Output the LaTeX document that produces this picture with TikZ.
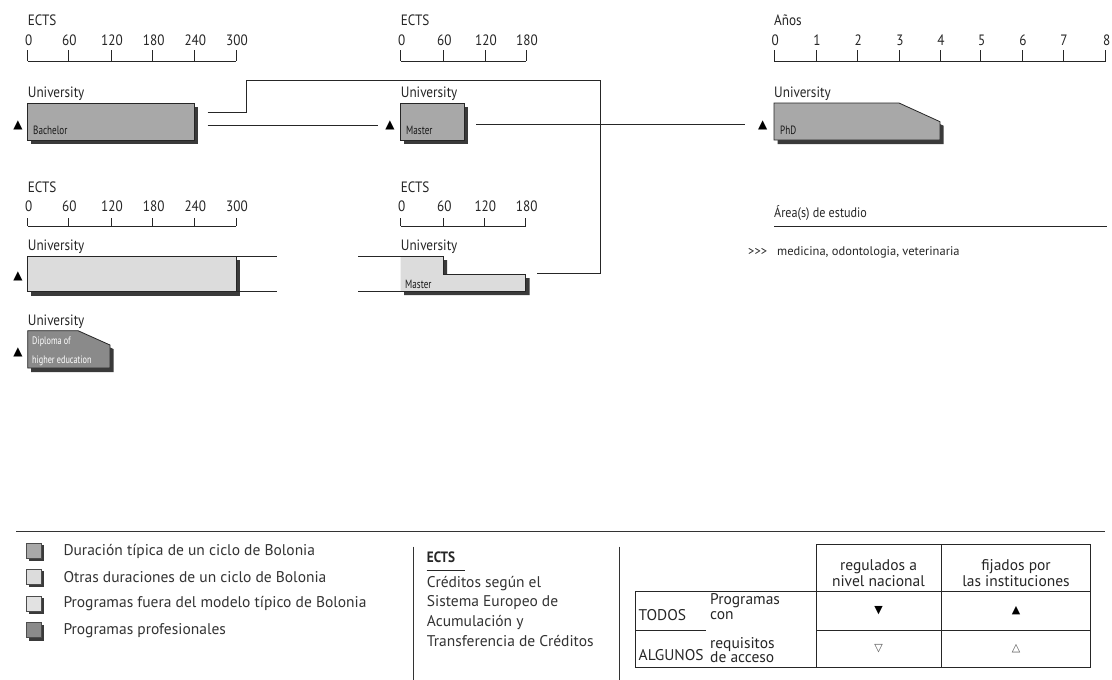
\documentclass[tikz,border=0pt]{standalone}
\usepackage{fontspec}
\setmainfont{PT Sans}
\newfontfamily\condf[FakeStretch=0.88]{PT Sans}
\newfontfamily\condn[FakeStretch=0.76]{PT Sans}
\newfontfamily\symf{DejaVu Sans}
\definecolor{typc}{HTML}{A8A8A8}
\definecolor{othc}{HTML}{DCDCDC}
\definecolor{outc}{HTML}{E2E2E2}
\definecolor{proc}{HTML}{8A8A8A}
\definecolor{shc}{HTML}{3A3A3A}
\begin{document}
\begin{tikzpicture}[x=1pt,y=-1pt,
  axisl/.style={draw=black!85, line width=0.8pt},
  lab/.style={font=\condf\fontsize{15}{16}\selectfont, text=black!85, inner sep=0pt},
  ulab/.style={lab, anchor=west},
  inlab/.style={font=\condn\fontsize{12}{13}\selectfont, text=black!90, inner sep=0pt, anchor=west},
  tri/.style={font=\symf\fontsize{12}{13}\selectfont, inner sep=0pt},
  ttri/.style={font=\symf\fontsize{11}{12}\selectfont, inner sep=0pt},
  boxl/.style={draw=black!85, line width=0.8pt},
  shad/.style={fill=shc},
  conn/.style={draw=black!85, line width=0.8pt},
  leg/.style={font=\fontsize{15.5}{19.6}\selectfont, text=black!80, inner sep=0pt, anchor=west},
  tabh/.style={font=\fontsize{15.5}{15}\selectfont, text=black!85, inner sep=0pt, anchor=base},
  tabl/.style={font=\fontsize{15.5}{14}\selectfont, text=black!85, inner sep=0pt, anchor=base west},
]
\useasboundingbox (0,0) rectangle (1112,680);
\fill[white] (0,0) rectangle (1112,680);

% ---------- axes ----------
\node[ulab] (ax1t) at (27.7,20) {ECTS};
\draw[axisl] (27.7,61) -- (236,61);
\foreach \x/\l [count=\i] in {27.7/0,68.3/60,111/120,152.7/180,194.3/240,236/300}{
  \draw[axisl] (\x,50) -- (\x,61);
  \node[lab] (ax1n\i) at (\x+1,40) {\l};
}
\node[ulab] (ax2t) at (400.7,20) {ECTS};
\draw[axisl] (400.7,61) -- (526,61);
\foreach \x/\l [count=\i] in {400.7/0,443.3/60,485/120,526/180}{
  \draw[axisl] (\x,50) -- (\x,61);
  \node[lab] (ax2n\i) at (\x+1,40) {\l};
}
\node[ulab] (ax3t) at (774,20) {Años};
\draw[axisl] (774.3,61) -- (1105.7,61);
\foreach \x/\l [count=\i] in {774.3/0,816/1,857.3/2,899/3,940/4,980.7/5,1022/6,1063/7,1105.7/8}{
  \draw[axisl] (\x,50) -- (\x,61);
  \node[lab] (ax3n\i) at (\x+1,40) {\l};
}
\node[ulab] (ax4t) at (27.7,187) {ECTS};
\draw[axisl] (27.7,226) -- (236,226);
\foreach \x/\l [count=\i] in {27.7/0,68.3/60,111/120,152.7/180,194.3/240,236/300}{
  \draw[axisl] (\x,218) -- (\x,226);
  \node[lab] (ax4n\i) at (\x+1,206) {\l};
}
\node[ulab] (ax5t) at (400.7,187) {ECTS};
\draw[axisl] (400.7,226) -- (525.7,226);
\foreach \x/\l [count=\i] in {400.7/0,443.3/60,484.3/120,525.7/180}{
  \draw[axisl] (\x,218) -- (\x,226);
  \node[lab] (ax5n\i) at (\x+1,206) {\l};
}

% ---------- row 1 ----------
\node[ulab] (u1) at (27.7,94) {University};
\fill[shad] (31,107) rectangle (198,144);
\filldraw[boxl, fill=typc] (27.7,103) rectangle (194.3,140);
\node[inlab] (bach) at (33,130) {Bachelor};
\node[tri] (t1) at (18,125) {▲};

\node[ulab] (u2) at (400.7,94) {University};
\fill[shad] (404,107) rectangle (468,144);
\filldraw[boxl, fill=typc] (400.7,103) rectangle (464,140);
\node[inlab] (mast) at (406,130) {Master};
\node[tri] (t2) at (390,125) {▲};

\node[ulab] (u3) at (774,94) {University};
\fill[shad] (777.5,107) -- (902.5,107) -- (943.5,125.7) -- (943.5,144) -- (777.5,144) -- cycle;
\filldraw[boxl, fill=typc] (774,103) -- (899,103) -- (940,121.7) -- (940,140) -- (774,140) -- cycle;
\node[inlab] (phd) at (780,130) {PhD};
\node[tri] (t3) at (762.7,125) {▲};

% ---------- row 2 ----------
\node[ulab] (u4) at (27.7,247) {University};
\fill[shad] (31,260) rectangle (239.5,295.5);
\fill[othc] (27.7,256) rectangle (236,291.7);
\draw[boxl] (27.7,256) -- (27.7,291.7);
\draw[boxl] (236,256) -- (236,291.7);
\coordinate (r2tl) at (27.7,256);
\coordinate (r2tr) at (276.7,256);
\coordinate (r2bl) at (27.7,291.7);
\coordinate (r2br) at (276.7,291.7);
\draw[conn] (r2tl) -- (r2tr);
\draw[conn] (r2bl) -- (r2br);
\node[tri] (t4) at (18,276.7) {▲};

\node[ulab] (u5) at (400.7,247) {University};
\fill[shad] (404,295) -- (404,260) -- (447,260) -- (447,278) -- (529.5,278) -- (529.5,295) -- cycle;
\fill[othc] (400.7,256) -- (443.3,256) -- (443.3,274) -- (525.7,274) -- (525.7,291) -- (400.7,291) -- cycle;
\coordinate (m2tl) at (358.3,256);
\coordinate (m2bl) at (358.3,291);
\draw[conn] (m2tl) -- (443.3,256) -- (443.3,274) -- (525.7,274) -- (525.7,291) -- (m2bl);
\node[inlab] (mast2) at (405,284) {Master};

% ---------- diploma ----------
\node[ulab] (u6) at (27.7,321.5) {University};
\fill[shad] (31,334.5) -- (81.5,334.5) -- (113.5,349) -- (113.5,372) -- (31,372) -- cycle;
\filldraw[boxl, fill=proc] (27.7,330.7) -- (78,330.7) -- (110,345) -- (110,368) -- (27.7,368) -- cycle;
\node[inlab, text=white, font=\condn\fontsize{10.8}{12}\selectfont] (dip1) at (32,341.5) {Diploma of};
\node[inlab, text=white, font=\condn\fontsize{10.8}{12}\selectfont] (dip2) at (32,361) {higher education};
\node[tri] (t5) at (18,352.7) {▲};

% ---------- connectors ----------
\coordinate (b1out) at (207.7,112.7);
\coordinate (k1) at (246.7,112.7);
\coordinate (k2) at (246.7,80);
\coordinate (k3) at (600,80);
\coordinate (k4) at (600,273);
\coordinate (m2in) at (536.7,273);
\draw[conn] (b1out) -- (k1) -- (k2) -- (k3) -- (k4) -- (m2in);
\coordinate (b2out) at (207.7,125);
\coordinate (m1in) at (378,125);
\draw[conn] (b2out) -- (m1in);
\coordinate (m1out) at (476,124);
\coordinate (p1in) at (745,124);
\draw[conn] (m1out) -- (p1in);

% ---------- study area ----------
\node[font=\condf\fontsize{13.8}{14}\selectfont, text=black!85, inner sep=0pt, anchor=west] (area) at (774,213) {Área(s) de estudio};
\coordinate (ul1) at (774,226.7);
\coordinate (ul2) at (1106.7,226.7);
\draw[conn] (ul1) -- (ul2);
\node[font=\fontsize{12.5}{13}\selectfont, text=black!85, inner sep=0pt, anchor=west] (med) at (748,252) {{>}{>}{>}\hspace{10pt}medicina, odontologia, veterinaria};

% ---------- legend ----------
\coordinate (lg1) at (16,531.7);
\coordinate (lg2) at (1105,531.7);
\draw[draw=black!80, line width=1pt] (lg1) -- (lg2);
\foreach \y/\c/\t [count=\i] in {551/typc/Duración típica de un ciclo de Bolonia,577/othc/Otras duraciones de un ciclo de Bolonia,604/outc/Programas fuera del modelo típico de Bolonia,630.5/proc/Programas profesionales}{
  \fill[shad] (28.5,\y-6) rectangle (43.5,\y+10);
  \filldraw[draw=black!70, line width=0.7pt, fill=\c] (26.5,\y-8) rectangle (41,\y+7);
  \node[leg] (lt\i) at (63.3,\y) {\t};
}
\coordinate (s1a) at (413,546.7);
\coordinate (s1b) at (413,680);
\coordinate (s2a) at (619.3,546.7);
\coordinate (s2b) at (619.3,680);
\draw[draw=black!80, line width=0.9pt] (s1a) -- (s1b);
\draw[draw=black!80, line width=0.9pt] (s2a) -- (s2b);

\node[font=\condf\fontsize{15}{16}\selectfont\bfseries, text=black!85, inner sep=0pt, anchor=west] (ects) at (426.7,557) {ECTS};
\coordinate (eu1) at (426.7,570.7);
\coordinate (eu2) at (465,570.7);
\draw[conn] (eu1) -- (eu2);
\node[leg, anchor=north west, align=left] (ectsd) at (426.7,576) {Créditos según el\\Sistema Europeo de\\Acumulación y\\Transferencia de Créditos};

% ---------- table ----------
\begin{scope}[line width=0.8pt, draw=black!85]
\draw (816,544) -- (1090,544);
\draw (635,591.7) rectangle (1090,667.3);
\draw (816,544) -- (816,667.3);
\draw (941.7,544) -- (941.7,667.3);
\draw (1090,544) -- (1090,591.7);
\draw (816,630) -- (1090,630);
\draw (635,630) -- (706,630);
\end{scope}
\node[tabh] (h1a) at (878.5,570) {regulados a};
\node[tabh] (h1b) at (878.5,586) {nivel nacional};
\node[tabh] (h2a) at (1016,570) {fijados por};
\node[tabh] (h2b) at (1016,586) {las instituciones};
\node[tabl] (todos) at (638.5,620) {TODOS};
\node[tabl] (algunos) at (638.5,660) {ALGUNOS};
\node[tabl] (prog1) at (710,604.5) {Programas};
\node[tabl] (prog2) at (710,619.5) {con};
\node[tabl] (prog3) at (710,648) {requisitos};
\node[tabl] (prog4) at (710,662.5) {de acceso};
\node[ttri] (c11) at (878.5,611) {▼};
\node[ttri] (c12) at (1016,611) {▲};
\node[ttri, text=black!70] (c21) at (878.5,648.5) {▽};
\node[ttri, text=black!70] (c22) at (1016,648.5) {△};
\end{tikzpicture}
\end{document}
